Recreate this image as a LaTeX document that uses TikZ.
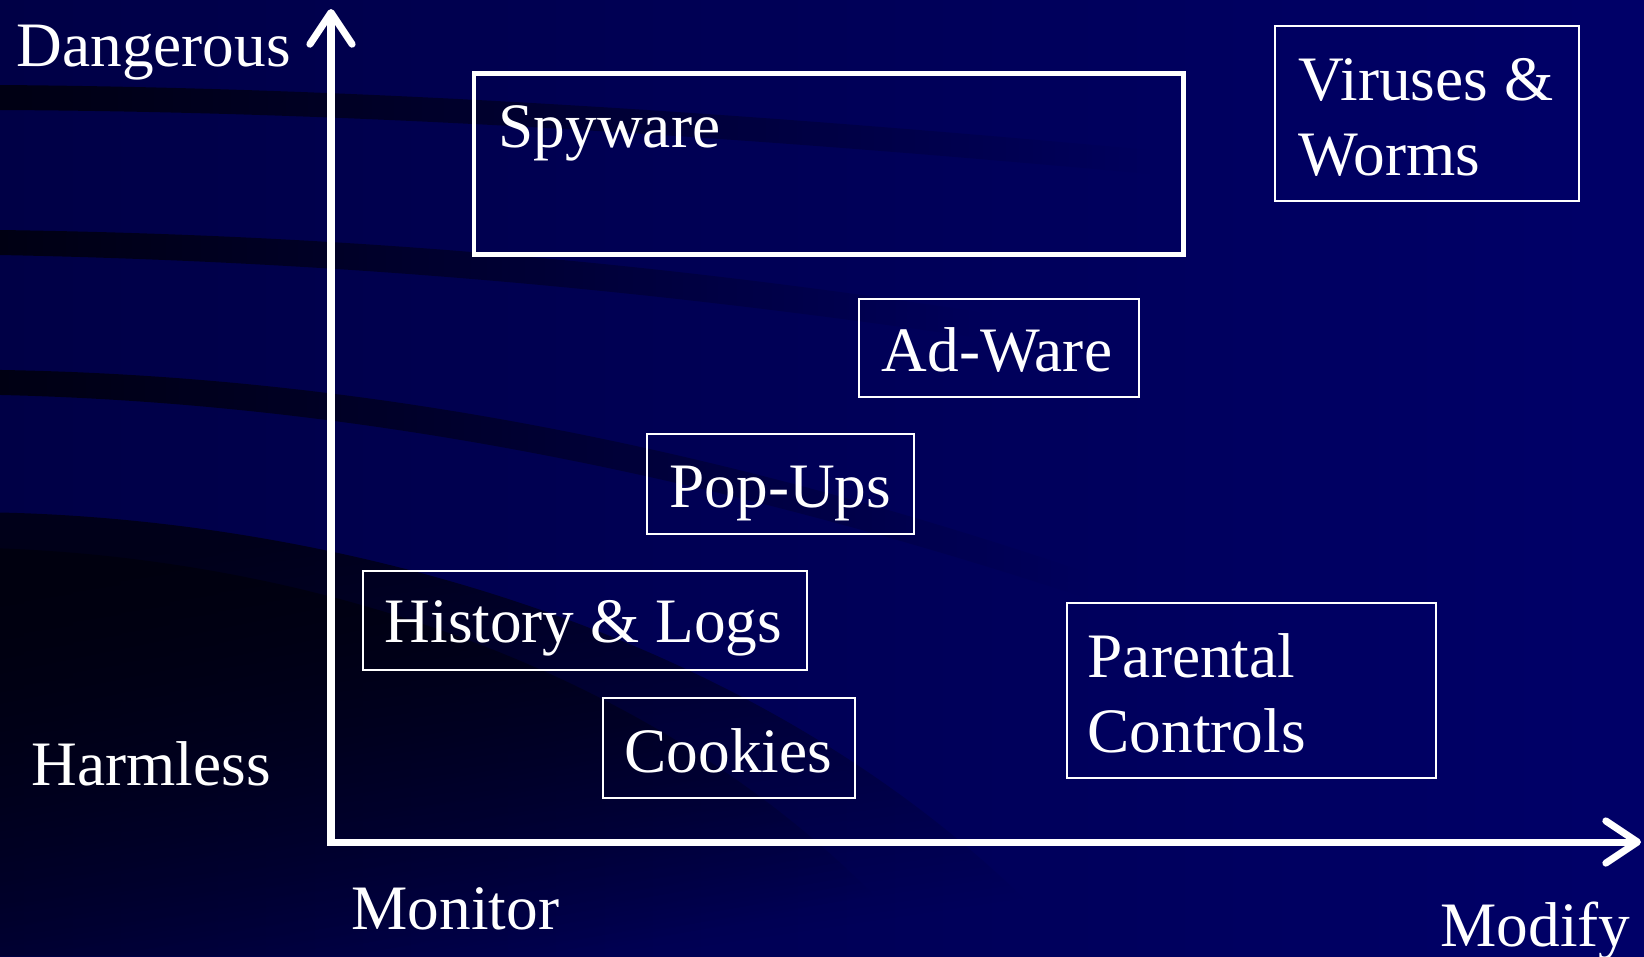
\documentclass[tikz,border=0pt]{standalone}
\usepackage{fontspec}
\setmainfont{Liberation Serif}
\usetikzlibrary{arrows.meta,fadings,fit}
\definecolor{bgL}{HTML}{000046}
\definecolor{bgR}{HTML}{000068}
\definecolor{band}{HTML}{00000E}
\tikzfading[name=fadeR, left color=transparent!0, middle color=transparent!15, right color=transparent!100]
\tikzfading[name=fadeD, top color=transparent!0, bottom color=transparent!100]
\begin{document}
\begin{tikzpicture}[x=0.01cm,y=-0.01cm,
  lbl/.style={text=white,font=\fontsize{18}{21.3}\selectfont,inner sep=0pt,anchor=base west,align=left},
  thinbox/.style={draw=white,line width=0.57pt,inner sep=0pt},
  thickbox/.style={draw=white,line width=1.42pt,inner sep=0pt},
  axis/.style={draw=white,line width=2pt,line join=miter,
    {Straight Barb[length=9pt,width=12pt,line cap=round,line join=round]}-{Straight Barb[length=9pt,width=12pt,line cap=round,line join=round]}},
  bandfill/.style={fill=band,opacity=0.9,path fading=fadeR}]
% background
\shade[left color=bgL,right color=bgR] (0,0) rectangle (1644,956);
\useasboundingbox (0,0) rectangle (1644,956);
% dark swooshes
\fill[bandfill] (0,85) .. controls (400,88) and (800,118) .. (1150,150)
  -- (1150,174) .. controls (800,142) and (400,112) .. (0,110) -- cycle;
\fill[bandfill] (0,230) .. controls (350,235) and (650,262) .. (980,312)
  -- (980,338) .. controls (650,290) and (350,262) .. (0,255) -- cycle;
\fill[bandfill] (0,370) .. controls (300,375) and (650,425) .. (1080,570)
  -- (1080,596) .. controls (650,455) and (300,402) .. (0,395) -- cycle;
\fill[fill=band,opacity=0.8,path fading=fadeD,fading angle=20]
  (0,512) .. controls (350,520) and (800,640) .. (1080,956) -- (0,956) -- cycle;
\fill[fill=band,opacity=0.85,path fading=fadeD,fading angle=25]
  (0,548) .. controls (330,560) and (700,680) .. (930,956) -- (0,956) -- cycle;
% axes
\coordinate (ytop) at (331,9);
\coordinate (O) at (331,842);
\coordinate (xend) at (1641,842);
\draw[axis] (ytop) -- (O) -- (xend);
% boxes
\node[thickbox,fit={(474,73) (1183,254)}] (spybox) {};
\node[thinbox,fit={(1275,26) (1579,201)}] (virbox) {};
\node[thinbox,fit={(859,299) (1139,397)}] (adbox) {};
\node[thinbox,fit={(647,434) (914,534)}] (popbox) {};
\node[thinbox,fit={(363,571) (807,670)}] (histbox) {};
\node[thinbox,fit={(603,698) (855,798)}] (cookbox) {};
\node[thinbox,fit={(1067,603) (1436,778)}] (parbox) {};
% labels
\node[lbl] (dangerous) at (16,66) {Dangerous};
\node[lbl] (harmless) at (31,785) {Harmless};
\node[lbl] (monitor) at (351,929) {Monitor};
\node[lbl] (modify) at (1440,946) {Modify};
\node[lbl] (spyware) at (498,147) {Spyware};
\node[lbl] (viruses) at (1298,175) {Viruses \&\\Worms};
\node[lbl] (adware) at (881,371) {Ad-Ware};
\node[lbl] (popups) at (669,507) {Pop-Ups};
\node[lbl] (history) at (384,642) {History \& Logs};
\node[lbl] (cookies) at (624,772) {Cookies};
\node[lbl] (parental) at (1087,752) {Parental\\Controls};
\end{tikzpicture}
\end{document}
